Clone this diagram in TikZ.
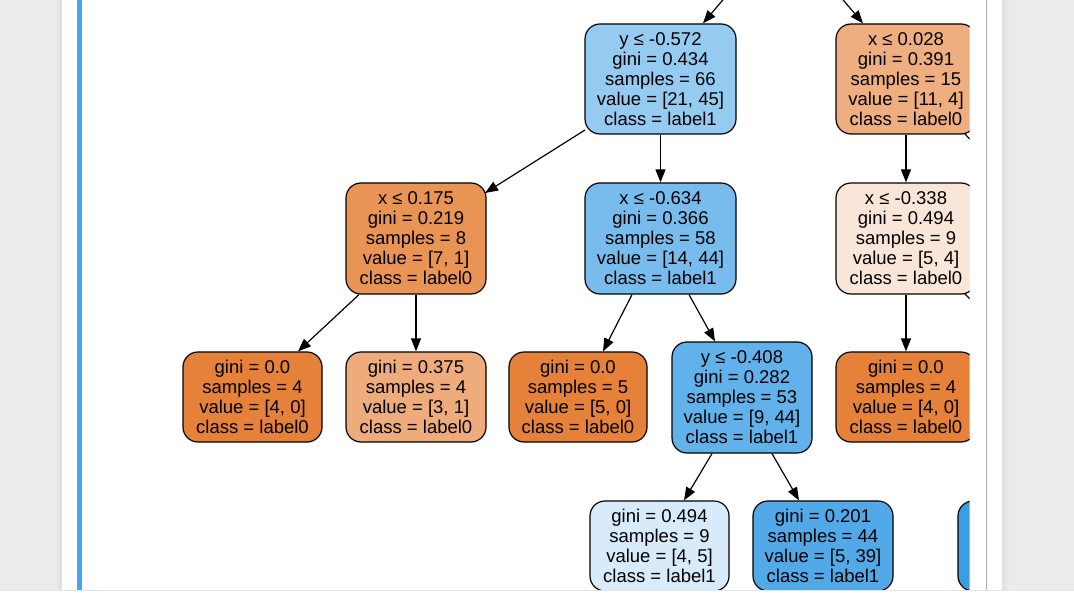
\documentclass[tikz,border=0pt]{standalone}
\usepackage{fontspec}
\setmainfont{Liberation Sans}
\usetikzlibrary{arrows.meta,calc}
\definecolor{pagegray}{HTML}{ECECEC}
\definecolor{barblue}{HTML}{42A5F5}
\definecolor{cA}{HTML}{96CBF1}
\definecolor{cB}{HTML}{EEAE80}
\definecolor{cC}{HTML}{E99355}
\definecolor{cD}{HTML}{78BCED}
\definecolor{cE}{HTML}{FAE6D8}
\definecolor{cPure}{HTML}{E58139}
\definecolor{cG}{HTML}{EEAB7B}
\definecolor{cI}{HTML}{61B1EA}
\definecolor{cK}{HTML}{D7EBFA}
\definecolor{cL}{HTML}{52A9E8}
\definecolor{cM}{HTML}{3B9EE5}
\begin{document}
\begin{tikzpicture}[x=1pt,y=-1pt,
  tnode/.style={draw=black, line width=1.2pt, rounded corners=15pt, inner sep=0pt,
    align=center, font=\fontsize{18.5}{20}\selectfont},
  edge/.style={draw=black, line width=1.2pt, -{Triangle[length=13pt,width=10pt]}},
  plainedge/.style={draw=black, line width=1.2pt}]
\useasboundingbox (0,0) rectangle (1074,599);
% page background
\fill[pagegray] (0,0) rectangle (1074,599);
\shade[left color=pagegray, right color=black!14] (55,0) rectangle (62,590);
\shade[left color=black!12, right color=pagegray] (1002,0) rectangle (1009,590);
\fill[white] (62,0) rectangle (1002,590);
\fill[barblue] (77,0) rectangle (82,590);
\draw[black!32, line width=1pt] (986,0) -- (986,590);
\fill[white] (0,590) rectangle (1074,599);
\draw[black!10, line width=1pt] (0,590) -- (1074,590);
\begin{scope}
\clip (62,0) rectangle (969.5,589.5);
% nodes
\node[tnode, fill=cA, minimum width=151pt, minimum height=110pt] (A) at (660.5,79)
  {y ≤ -0.572\\gini = 0.434\\samples = 66\\value = [21, 45]\\class = label1};
\node[tnode, fill=cB, minimum width=140pt, minimum height=110pt] (B) at (906,79)
  {x ≤ 0.028\\gini = 0.391\\samples = 15\\value = [11, 4]\\class = label0};
\node[tnode, fill=cC, minimum width=140pt, minimum height=111pt] (C) at (416,238.5)
  {x ≤ 0.175\\gini = 0.219\\samples = 8\\value = [7, 1]\\class = label0};
\node[tnode, fill=cD, minimum width=151pt, minimum height=111pt] (D) at (660.5,238.5)
  {x ≤ -0.634\\gini = 0.366\\samples = 58\\value = [14, 44]\\class = label1};
\node[tnode, fill=cE, minimum width=140pt, minimum height=111pt] (E) at (906,238.5)
  {x ≤ -0.338\\gini = 0.494\\samples = 9\\value = [5, 4]\\class = label0};
\node[tnode, fill=cPure, minimum width=139pt, minimum height=90pt] (F) at (252.5,397)
  {gini = 0.0\\samples = 4\\value = [4, 0]\\class = label0};
\node[tnode, fill=cG, minimum width=140pt, minimum height=90pt] (G) at (416,397)
  {gini = 0.375\\samples = 4\\value = [3, 1]\\class = label0};
\node[tnode, fill=cPure, minimum width=138pt, minimum height=90pt] (H) at (578,397)
  {gini = 0.0\\samples = 5\\value = [5, 0]\\class = label0};
\node[tnode, fill=cI, minimum width=140pt, minimum height=111pt] (I) at (742,397.5)
  {y ≤ -0.408\\gini = 0.282\\samples = 53\\value = [9, 44]\\class = label1};
\node[tnode, fill=cPure, minimum width=140pt, minimum height=90pt] (J) at (906,397)
  {gini = 0.0\\samples = 4\\value = [4, 0]\\class = label0};
\node[tnode, fill=cK, minimum width=139pt, minimum height=90pt] (K) at (659.5,546)
  {gini = 0.494\\samples = 9\\value = [4, 5]\\class = label1};
\node[tnode, fill=cL, minimum width=140pt, minimum height=90pt] (L) at (823,546)
  {gini = 0.201\\samples = 44\\value = [5, 39]\\class = label1};
\node[tnode, fill=cM, minimum width=140pt, minimum height=90pt] (M) at (1028,546) {};
% off-frame ends
\coordinate (topA) at (724.5,-2);
\coordinate (topB) at (841.5,-2);
\coordinate (outB) at (1010,182);
\coordinate (outE) at (1010,340);
% connectors
\draw[edge] (topA) -- ($(A.north)+(42.5,0)$);
\draw[edge] (topB) -- ($(B.north)+(-43,0)$);
\draw[edge] ($(A.center)+(-75.5,51)$) -- ($(C.center)+(69,-45.5)$);
\draw[edge] (A.south) -- (D.north);
\draw[edge] (B.south) -- (E.north);
\draw[plainedge] ($(B.south east)+(-12,-1)$) -- (outB);
\draw[edge] ($(C.south)+(-57,0)$) -- ($(F.north)+(45.5,0)$);
\draw[edge] (C.south) -- (G.north);
\draw[edge] ($(D.south)+(-28.5,0)$) -- ($(H.north)+(25,0)$);
\draw[edge] ($(D.south)+(28.5,0)$) -- ($(I.north)+(-27,0)$);
\draw[edge] (E.south) -- (J.north);
\draw[plainedge] ($(E.south east)+(-12,-1)$) -- (outE);
\draw[edge] ($(I.south)+(-30,0)$) -- ($(K.north)+(24.5,0)$);
\draw[edge] ($(I.south)+(30,0)$) -- ($(L.north)+(-24,0)$);
\end{scope}
\end{tikzpicture}
\end{document}
